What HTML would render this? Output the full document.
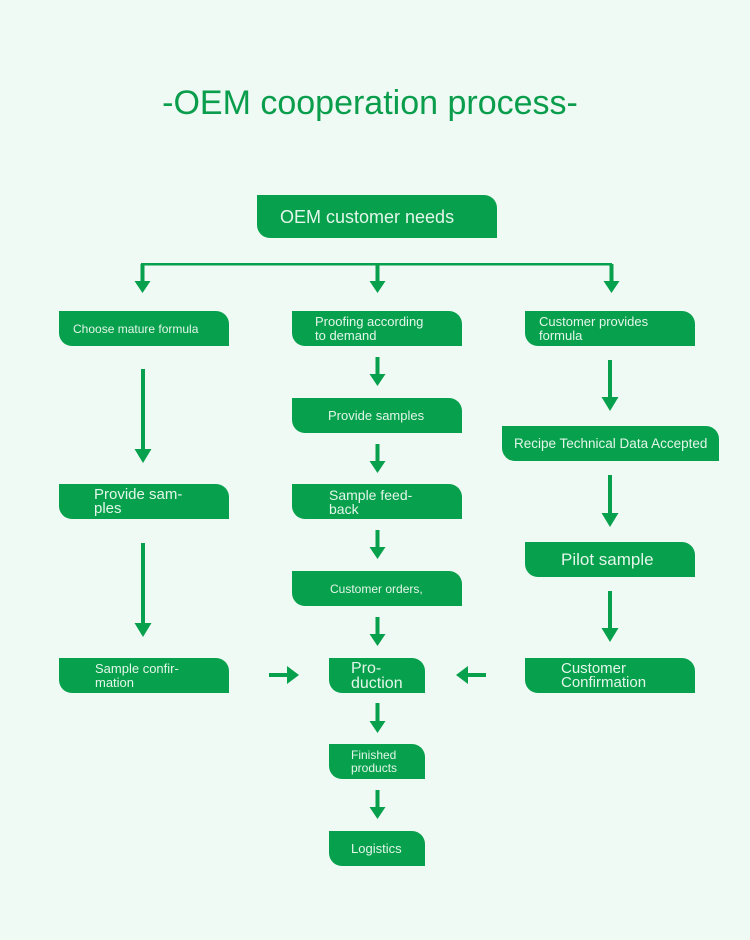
<!DOCTYPE html>
<html><head><style>
body{margin:0;width:750px;height:940px;background:#effaf4;position:relative;overflow:hidden;font-family:"Liberation Sans",sans-serif}
.t{position:absolute;left:0;width:740px;top:84px;text-align:center;font-size:34px;color:#0a9d4c}
.b{position:absolute;background:#07a04c;color:#e3f6ea;border-radius:0 13px 0 13px;font-size:13px;line-height:14px;box-sizing:border-box;display:flex;align-items:center}
svg{position:absolute;left:0;top:0}
</style></head><body>
<div class="t">-OEM cooperation process-</div>
<div class="b" style="left:257px;top:195px;width:240px;height:43px;font-size:18px;padding-left:23px">OEM customer needs</div>
<div class="b" style="left:59px;top:311px;width:170px;height:35px;font-size:12px;padding-left:14px">Choose mature formula</div>
<div class="b" style="left:292px;top:311px;width:170px;height:35px;padding-left:23px">Proofing according<br>to demand</div>
<div class="b" style="left:525px;top:311px;width:170px;height:35px;padding-left:14px">Customer provides<br>formula</div>
<div class="b" style="left:292px;top:398px;width:170px;height:35px;padding-left:36px">Provide samples</div>
<div class="b" style="left:292px;top:484px;width:170px;height:35px;padding-left:37px;font-size:14px">Sample feed-<br>back</div>
<div class="b" style="left:292px;top:571px;width:170px;height:35px;padding-left:38px;font-size:12px">Customer orders,</div>
<div class="b" style="left:329px;top:658px;width:96px;height:35px;padding-left:22px;font-size:16px;line-height:15px">Pro-<br>duction</div>
<div class="b" style="left:329px;top:744px;width:96px;height:35px;padding-left:22px;font-size:12px;line-height:13px">Finished<br>products</div>
<div class="b" style="left:329px;top:831px;width:96px;height:35px;padding-left:22px;font-size:13px">Logistics</div>
<div class="b" style="left:59px;top:484px;width:170px;height:35px;padding-left:35px;font-size:15px">Provide sam-<br>ples</div>
<div class="b" style="left:59px;top:658px;width:170px;height:35px;padding-left:36px">Sample confir-<br>mation</div>
<div class="b" style="left:502px;top:426px;width:217px;height:35px;padding-left:12px;font-size:13.5px">Recipe Technical Data Accepted</div>
<div class="b" style="left:525px;top:542px;width:170px;height:35px;padding-left:36px;font-size:17px">Pilot sample</div>
<div class="b" style="left:525px;top:658px;width:170px;height:35px;padding-left:36px;font-size:15px">Customer<br>Confirmation</div>
<svg width="750" height="940" fill="#07a04c" stroke="none">
<rect x="141" y="263" width="471" height="2.5"/>
<path d="M140.5 264h4v17h6l-8 12-8-12h6z"/>
<path d="M375.5 264h4v17h6l-8 12-8-12h6z"/>
<path d="M609.5 264h4v17h6l-8 12-8-12h6z"/>
<path d="M375.5 357h4v17h6l-8 12-8-12h6z"/>
<path d="M375.5 444h4v17h6l-8 12-8-12h6z"/>
<path d="M375.5 530h4v17h6l-8 12-8-12h6z"/>
<path d="M375.5 617h4v17h6l-8 12-8-12h6z"/>
<path d="M375.5 703h4v18h6l-8 12-8-12h6z"/>
<path d="M375.5 790h4v17h6l-8 12-8-12h6z"/>
<path d="M141 369h4v80h6.5l-8.5 14-8.5-14h6.5z"/>
<path d="M141 543h4v80h6.5l-8.5 14-8.5-14h6.5z"/>
<path d="M608 360h4v37h6.5l-8.5 14-8.5-14h6.5z"/>
<path d="M608 475h4v38h6.5l-8.5 14-8.5-14h6.5z"/>
<path d="M608 591h4v37h6.5l-8.5 14-8.5-14h6.5z"/>
<path d="M269 673h18v-7l12 9-12 9v-7h-18z"/>
<path d="M486 673h-18v-7l-12 9 12 9v-7h18z"/>
</svg>
</body></html>
